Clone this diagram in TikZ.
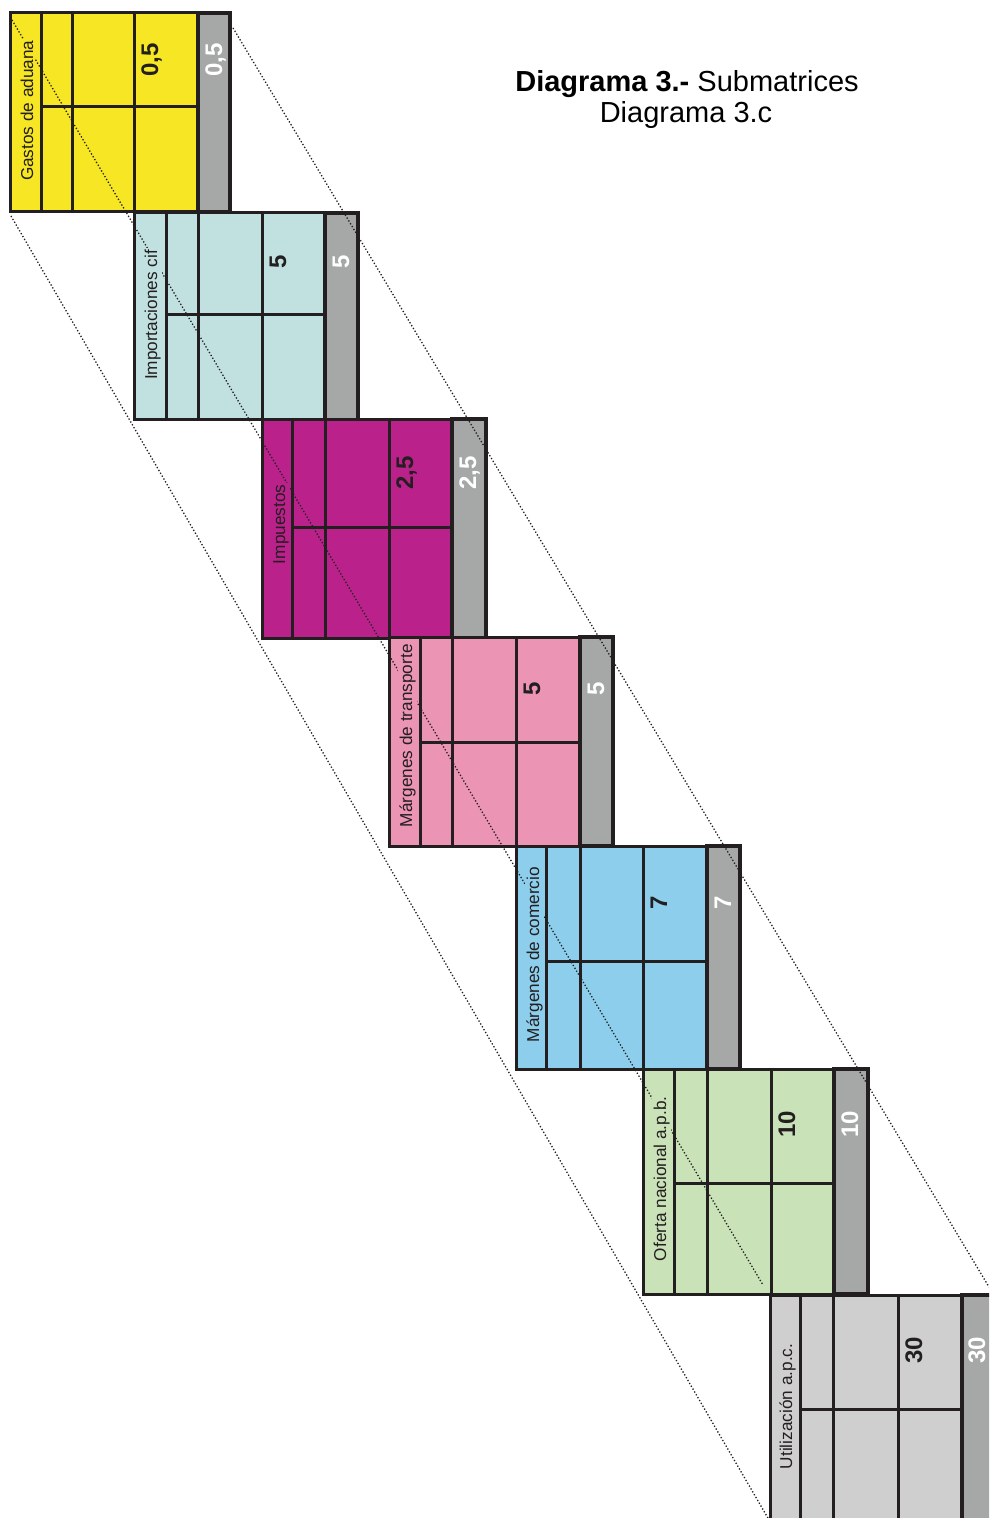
\documentclass[tikz,border=0pt]{standalone}
\usepackage{fontspec}
\setmainfont{Liberation Sans}
\definecolor{tinta}{RGB}{35,31,32}
\definecolor{amarillo}{RGB}{247,230,35}
\definecolor{celeste}{RGB}{192,225,224}
\definecolor{magenta}{RGB}{187,33,139}
\definecolor{rosa}{RGB}{236,148,180}
\definecolor{azul}{RGB}{140,206,236}
\definecolor{verde}{RGB}{201,226,183}
\definecolor{grisclaro}{RGB}{207,207,207}
\definecolor{grisosc}{RGB}{166,168,168}
\tikzset{
  rejilla/.style={draw=tinta,line width=1.5pt},
  total/.style={draw=tinta,fill=grisosc,line width=2.2pt},
  etiqueta/.style={rotate=90,anchor=base west,inner sep=0.8pt,text=tinta,
                   font=\fontsize{8.6}{10}\selectfont},
  cifra/.style={rotate=90,anchor=base,inner sep=0pt,text=tinta,
                font=\fontsize{12}{14}\selectfont\bfseries},
  cifrab/.style={cifra,text=white},
  guia/.style={draw=tinta,line width=0.65pt,dash pattern=on 0.65pt off 1pt},
  titulo/.style={anchor=base,inner sep=0pt,font=\fontsize{14.5}{17}\selectfont}
}
\begin{document}
\begin{tikzpicture}[x=0.5pt,y=-0.5pt]
  \useasboundingbox (0,0) rectangle (989,1518);
  \clip (0,0) rectangle (989,1518);

  % Gastos de aduana
  \filldraw[rejilla,fill=amarillo] (10,13) rectangle (198,212);
  \draw[rejilla] (41,13)--(41,212) (72,13)--(72,212) (134,13)--(134,212) (41,107)--(198,107);
  \filldraw[total] (198,13) rectangle (230,212);
  \node[cifra] (gastosv) at (158,60) {0,5};
  \node[cifrab] (gastost) at (222,60) {0,5};

  % Importaciones cif
  \filldraw[rejilla,fill=celeste] (134,213) rectangle (325,420);
  \draw[rejilla] (166,213)--(166,420) (198,213)--(198,420) (262,213)--(262,420) (166,315)--(325,315);
  \filldraw[total] (325,213) rectangle (358,420);
  \node[cifra] (importv) at (286,262) {5};
  \node[cifrab] (importt) at (349,262) {5};

  % Impuestos
  \filldraw[rejilla,fill=magenta] (262,420) rectangle (452,638);
  \draw[rejilla] (292,420)--(292,638) (325,420)--(325,638) (389,420)--(389,638) (292,527)--(452,527);
  \filldraw[total] (452,419) rectangle (486,638);
  \node[cifra] (impuestosv) at (413,473) {2,5};
  \node[cifrab] (impuestost) at (476,473) {2,5};

  % Margenes de transporte
  \filldraw[rejilla,fill=rosa] (389,637) rectangle (580,846);
  \draw[rejilla] (420,637)--(420,846) (452,637)--(452,846) (516,637)--(516,846) (420,742)--(580,742);
  \filldraw[total] (580,637) rectangle (613,846);
  \node[cifra] (transportev) at (540,689) {5};
  \node[cifrab] (transportet) at (604,689) {5};

  % Margenes de comercio
  \filldraw[rejilla,fill=azul] (516,846) rectangle (707,1069);
  \draw[rejilla] (546,846)--(546,1069) (580,846)--(580,1069) (643,846)--(643,1069) (546,961)--(707,961);
  \filldraw[total] (707,846) rectangle (740,1069);
  \node[cifra] (comerciov) at (667,903) {7};
  \node[cifrab] (comerciot) at (731,903) {7};

  % Oferta nacional
  \filldraw[rejilla,fill=verde] (643,1069) rectangle (834,1294);
  \draw[rejilla] (674,1069)--(674,1294) (707,1069)--(707,1294) (771,1069)--(771,1294) (674,1183)--(834,1183);
  \filldraw[total] (834,1069) rectangle (868,1294);
  \node[cifra] (ofertav) at (795,1124) {10};
  \node[cifrab] (ofertat) at (858,1124) {10};

  % Utilizacion
  \filldraw[rejilla,fill=grisclaro] (770,1295) rectangle (962,1540);
  \draw[rejilla] (800,1295)--(800,1540) (833,1295)--(833,1540) (898,1295)--(898,1540) (800,1409)--(962,1409);
  \filldraw[total] (962,1295) rectangle (1005,1540);
  \node[cifra] (utilizav) at (922,1350) {30};
  \node[cifrab] (utilizat) at (985,1350) {30};

  % lineas guia
  \coordinate (izqA) at (11,216);
  \coordinate (izqB) at (772,1525);
  \coordinate (medA) at (12,20);
  \coordinate (medB) at (763,1285);
  \coordinate (derA) at (233,28);
  \coordinate (derB) at (989,1287);
  \draw[guia] (izqA) -- (izqB);
  \draw[guia] (medA) -- (medB);
  \draw[guia] (derA) -- (derB);

  % rotulos (tapan la guia)
  \node[etiqueta,fill=amarillo] (gastos) at (33,183) {Gastos de aduana};
  \node[etiqueta,fill=celeste] (import) at (157,382) {Importaciones cif};
  \node[etiqueta,fill=magenta] (impuestos) at (285,566) {Impuestos};
  \node[etiqueta,fill=rosa] (transporte) at (412,829) {Márgenes de transporte};
  \node[etiqueta,fill=azul] (comercio) at (539,1044) {Márgenes de comercio};
  \node[etiqueta,fill=verde] (oferta) at (666,1263) {Oferta nacional a.p.b.};
  \node[etiqueta,fill=grisclaro] (utiliza) at (792,1471) {Utilización a.p.c.};

  \node[titulo] (tit1) at (687,92) {\textbf{Diagrama 3.-} Submatrices};
  \node[titulo] (tit2) at (686,123) {Diagrama 3.c};
\end{tikzpicture}
\end{document}
